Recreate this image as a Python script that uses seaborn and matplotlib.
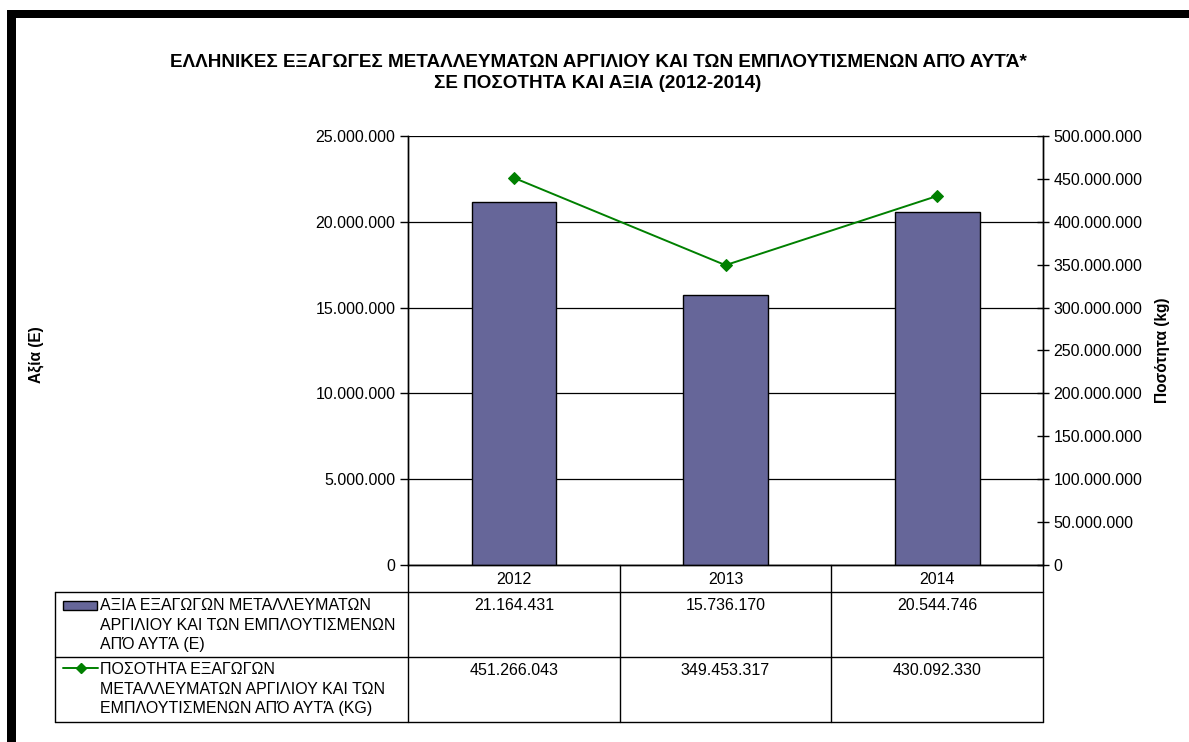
import numpy as np
import pandas as pd
import matplotlib
matplotlib.use("Agg")
import matplotlib.pyplot as plt
from matplotlib.ticker import FuncFormatter, MultipleLocator
from matplotlib.lines import Line2D
from matplotlib.patches import Rectangle
import seaborn as sns

# Data
years = ["2012", "2013", "2014"]
value_eur = [21164431, 15736170, 20544746]
quantity_kg = [451266043, 349453317, 430092330]

title = ("ΕΛΛΗΝΙΚΕΣ ΕΞΑΓΩΓΕΣ ΜΕΤΑΛΛΕΥΜΑΤΩΝ ΑΡΓΙΛΙΟΥ ΚΑΙ ΤΩΝ ΕΜΠΛΟΥΤΙΣΜΕΝΩΝ ΑΠΌ ΑΥΤΆ*\n"
         "ΣΕ ΠΟΣΟΤΗΤΑ ΚΑΙ ΑΞΙΑ (2012-2014)")
left_label = "Αξία (Ε)"
right_label = "Ποσότητα (kg)"
bar_series = "ΑΞΙΑ ΕΞΑΓΩΓΩΝ ΜΕΤΑΛΛΕΥΜΑΤΩΝ\nΑΡΓΙΛΙΟΥ ΚΑΙ ΤΩΝ ΕΜΠΛΟΥΤΙΣΜΕΝΩΝ\nΑΠΌ ΑΥΤΆ (Ε)"
line_series = "ΠΟΣΟΤΗΤΑ ΕΞΑΓΩΓΩΝ\nΜΕΤΑΛΛΕΥΜΑΤΩΝ ΑΡΓΙΛΙΟΥ ΚΑΙ ΤΩΝ\nΕΜΠΛΟΥΤΙΣΜΕΝΩΝ ΑΠΌ ΑΥΤΆ (KG)"

BAR_COLOR = "#666699"
LINE_COLOR = "#008000"


def dotted(v, pos=None):
    return f"{int(v):,}".replace(",", ".")


sns.set_style("white")
plt.rcParams["font.family"] = ["Liberation Sans", "DejaVu Sans"]
plt.rcParams["text.color"] = "black"
plt.rcParams["xtick.color"] = "black"
plt.rcParams["ytick.color"] = "black"
plt.rcParams["axes.labelcolor"] = "black"

W, H = 1189, 742
fig = plt.figure(figsize=(W / 100, H / 100), dpi=100)

# plot area in pixels
px_l, px_r, px_t, px_b = 408, 1043, 136, 565
ax = fig.add_axes([px_l / W, 1 - px_b / H, (px_r - px_l) / W, (px_b - px_t) / H])

df = pd.DataFrame({"year": years, "value": value_eur, "qty": quantity_kg})
sns.barplot(data=df, x="year", y="value", ax=ax, color=BAR_COLOR,
            width=0.4, edgecolor="black", linewidth=1, saturation=1, zorder=3)
ax.set_ylim(0, 25_000_000)
ax.yaxis.set_major_locator(MultipleLocator(5_000_000))
ax.yaxis.set_major_formatter(FuncFormatter(dotted))
ax.grid(axis="y", color="black", linewidth=0.9, zorder=0)
ax.set_axisbelow(True)
ax.set_xlim(-0.5, 2.5)
ax.set_xlabel("")
ax.set_ylabel("")
ax.set_xticks([])
ax.tick_params(axis="y", direction="out", length=6, width=1, color="black",
               labelsize=11.5, labelcolor="black", pad=3, left=True)
for s in ax.spines.values():
    s.set_color("black")
    s.set_linewidth(1)
ax.spines["top"].set_visible(False)

ax2 = ax.twinx()
sns.lineplot(x=np.arange(len(years)), y=df["qty"], ax=ax2, color=LINE_COLOR,
             marker="D", markersize=6, markeredgecolor=LINE_COLOR, linewidth=1.4,
             zorder=5)
ax2.set_ylim(0, 500_000_000)
ax2.yaxis.set_major_locator(MultipleLocator(50_000_000))
ax2.yaxis.set_major_formatter(FuncFormatter(dotted))
ax2.tick_params(axis="y", direction="inout", length=9, width=1, color="black",
                labelsize=11.5, labelcolor="black", pad=3, right=True)
ax2.set_ylabel("")
ax2.set_xlim(-0.5, 2.5)
for s in ax2.spines.values():
    s.set_color("black")
    s.set_linewidth(1)
ax2.spines["top"].set_visible(False)

# overlay in pixel coordinates for frame, titles and data table
ov = fig.add_axes([0, 0, 1, 1], facecolor="none")
ov.set_xlim(0, W)
ov.set_ylim(H, 0)
ov.axis("off")

ov.add_patch(Rectangle((7, 10), W - 7, 8, color="black", lw=0))
ov.add_patch(Rectangle((7, 10), 9, H - 10, color="black", lw=0))

ov.text(598, 73, title, ha="center", va="center", fontsize=13.6, fontweight="bold",
        linespacing=1.3)
ov.text(36, 355, left_label, ha="center", va="center", rotation=90,
        fontsize=11.2, fontweight="bold")
ov.text(1162, 350, right_label, ha="center", va="center", rotation=90,
        fontsize=11.2, fontweight="bold")

# table
tab_l = 55
row_y = [565, 592, 657, 722]
col_x = [px_l + (px_r - px_l) * i / len(years) for i in range(len(years) + 1)]
lc = dict(color="black", lw=1)
ov.add_line(Line2D([tab_l, px_r], [row_y[1]] * 2, **lc))
ov.add_line(Line2D([tab_l, px_r], [row_y[2]] * 2, **lc))
ov.add_line(Line2D([tab_l, px_r], [row_y[3]] * 2, **lc))
ov.add_line(Line2D([tab_l, tab_l], [row_y[1], row_y[3]], **lc))
for x in col_x:
    ov.add_line(Line2D([x, x], [row_y[0], row_y[3]], **lc))

for i, yr in enumerate(years):
    cx = (col_x[i] + col_x[i + 1]) / 2
    ov.text(cx, 579, yr, ha="center", va="center", fontsize=11.5)
    ov.text(cx, 598, dotted(value_eur[i]), ha="center", va="top", fontsize=11.5)
    ov.text(cx, 663, dotted(quantity_kg[i]), ha="center", va="top", fontsize=11.5)

# legend keys
ov.add_patch(Rectangle((63, 601), 34, 9, facecolor=BAR_COLOR, edgecolor="black", lw=1))
ov.add_line(Line2D([63, 98], [668, 668], color=LINE_COLOR, lw=1.4))
ov.add_line(Line2D([80.5], [668], color=LINE_COLOR, marker="D", markersize=5,
                   linestyle="none"))
ov.text(100, 598, bar_series, ha="left", va="top", fontsize=11.5, linespacing=1.38)
ov.text(100, 662, line_series, ha="left", va="top", fontsize=11.5, linespacing=1.38)

fig.savefig("out.png", dpi=100)
